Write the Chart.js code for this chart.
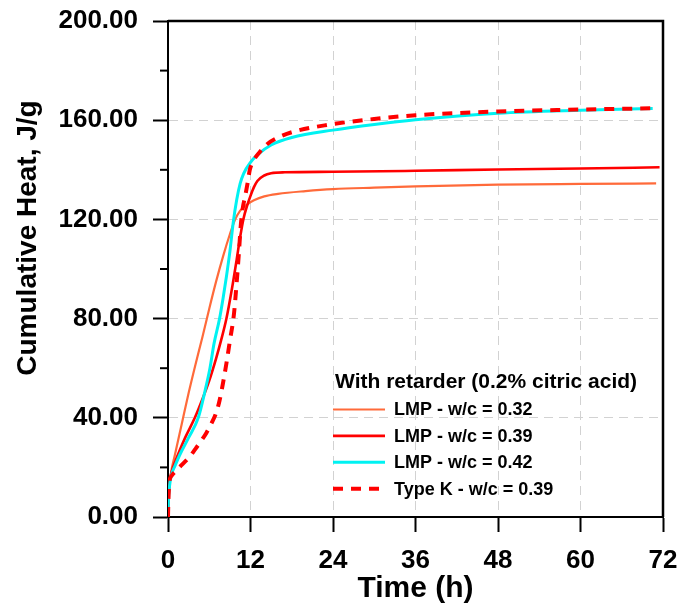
<!DOCTYPE html>
<html>
<head>
<meta charset="utf-8">
<script src="https://cdn.jsdelivr.net/npm/chart.js@4"></script>
<style>
    body { margin: 0; background: #fff; }
</style>
</head>
<body>
<canvas id="heatChart" width="683" height="613"></canvas>
<script>
const FONT = '"Liberation Sans", Arial, sans-serif';

// idő (h) és kumulatív hő (J/g), leolvasva az ábráról
const timeLmp032 = [0, 0.15, 0.4, 1, 2, 3, 4, 5, 6, 7, 8, 9, 9.7, 10.5, 11.5, 12.5, 14, 16, 20, 24, 30, 36, 48, 60, 71];
const heatLmp032 = [0, 10, 17, 25, 37.5, 50, 61.5, 72.5, 84, 95, 105, 114, 119.5, 123.5, 126, 127.7, 129.3, 130.3, 131.4, 132.2, 132.8, 133.3, 134, 134.3, 134.5];

const timeLmp039 = [0, 0.05, 0.2, 0.5, 1, 1.5, 2.5, 3.9, 5, 6, 7, 7.7, 8.5, 9.3, 10, 10.5, 11, 11.5, 12, 12.5, 13, 14, 15, 17, 24, 36, 48, 60, 71.5];
const heatLmp039 = [0, 6, 13, 18, 22, 25.5, 32, 40, 47.5, 55, 64, 71, 80, 92, 104, 113, 120.5, 125.5, 129.5, 133, 135.5, 137.7, 138.6, 139, 139.2, 139.6, 140.1, 140.5, 141];

const timeLmp042 = [0, 0.05, 0.2, 0.5, 1, 1.7, 3, 4.4, 5.4, 6.1, 6.7, 7.5, 8, 8.5, 9, 9.5, 10, 10.5, 11, 12, 13, 15, 18, 24, 30, 36, 48, 60, 70.5];
const heatLmp042 = [0, 6, 12, 17, 20.5, 25, 32, 40, 51, 60, 70, 80, 88, 97, 107, 119, 128, 134.5, 138.5, 143, 146, 150, 153, 156, 158.3, 160.2, 162.8, 164, 164.7];

const timeTypeK = [0, 0.05, 0.2, 0.5, 1.3, 2, 3.2, 4, 4.9, 5.6, 6.3, 7, 7.5, 8, 8.5, 9, 9.6, 10, 10.3, 10.6, 10.9, 11.2, 11.6, 11.9, 12.4, 13.3, 14.5, 16, 18.2, 23.2, 30, 36, 48, 60, 70.5];
const heatTypeK = [0, 6, 14, 16.5, 19, 21, 24.5, 27.5, 31, 34, 37.6, 42, 47, 54, 62, 71, 82, 95, 106, 118, 125, 129, 135, 140, 143.5, 147, 150.5, 153, 155.3, 158.1, 160.5, 162, 163.5, 164.3, 164.8];

const seriesLabels = ['LMP - w/c = 0.32', 'LMP - w/c = 0.39', 'LMP - w/c = 0.42', 'Type K - w/c = 0.39'];
const legendTitle = 'With retarder (0.2% citric acid)';
const xTitle = 'Time (h)';
const yTitle = 'Cumulative Heat, J/g';
const yMinorTicks = [20, 60, 100, 140, 180];

const toPoints = (xs, ys) => xs.map((x, i) => ({x, y: ys[i]}));

const hideEdge = (lo, hi) => (c) =>
    (c.tick && (c.tick.value === lo || c.tick.value === hi)) ? 'rgba(0,0,0,0)' : '#d2d2d2';

// fix tengelyméret, a címkék ne tolják el a rajzterületet
const fixScale = (w, h) => (s) => {
    if (w) s.width = w;
    if (h) s.height = h;
    s.paddingLeft = s.paddingRight = s.paddingTop = s.paddingBottom = 0;
};

// keret, kis osztások, y felirat és jelmagyarázat
const extrasPlugin = {
    id: 'extras',
    afterDraw(chart) {
        const {ctx, chartArea: a, scales: {y}} = chart;
        ctx.save();
        ctx.strokeStyle = '#000';
        ctx.lineWidth = 2;
        yMinorTicks.forEach(v => {
            const py = y.getPixelForValue(v);
            ctx.beginPath();
            ctx.moveTo(a.left - 8, py);
            ctx.lineTo(a.left, py);
            ctx.stroke();
        });
        ctx.lineWidth = 2.5;
        ctx.beginPath();
        ctx.moveTo(a.left, a.top);
        ctx.lineTo(a.right, a.top);
        ctx.lineTo(a.right, a.bottom);
        ctx.stroke();

        // y tengely címe
        ctx.save();
        ctx.translate(28, 238);
        ctx.rotate(-Math.PI / 2);
        ctx.fillStyle = '#000';
        ctx.font = 'bold 28px ' + FONT;
        ctx.textAlign = 'center';
        ctx.textBaseline = 'middle';
        ctx.fillText(yTitle, 0, 0);
        ctx.restore();

        // jelmagyarázat a rajzterület jobb alsó részén
        const lx = a.left + 165;
        ctx.fillStyle = '#000';
        ctx.textAlign = 'left';
        ctx.textBaseline = 'middle';
        ctx.font = 'bold 21px ' + FONT;
        ctx.fillText(legendTitle, lx + 2, a.bottom - 135);
        ctx.font = 'bold 18px ' + FONT;
        chart.data.datasets.forEach((ds, i) => {
            const ly = a.bottom - 107.5 + i * 26.4;
            ctx.strokeStyle = ds.borderColor;
            ctx.lineWidth = ds.borderWidth;
            ctx.setLineDash(ds.borderDash || []);
            ctx.beginPath();
            ctx.moveTo(lx, ly);
            ctx.lineTo(lx + 52, ly);
            ctx.stroke();
            ctx.setLineDash([]);
            ctx.fillText(ds.label, lx + 61, ly + 1);
        });
        ctx.restore();
    }
};

new Chart(document.getElementById('heatChart'), {
    type: 'line',
    data: {
        datasets: [
            {label: seriesLabels[0], data: toPoints(timeLmp032, heatLmp032), borderColor: '#ff6a3a', borderWidth: 2.2, order: 3},
            {label: seriesLabels[1], data: toPoints(timeLmp039, heatLmp039), borderColor: '#ff0000', borderWidth: 2.6, order: 2},
            {label: seriesLabels[2], data: toPoints(timeLmp042, heatLmp042), borderColor: '#00f2f2', borderWidth: 3, order: 1},
            {label: seriesLabels[3], data: toPoints(timeTypeK, heatTypeK), borderColor: '#ff0000', borderWidth: 4, borderDash: [10, 8], order: 0}
        ]
    },
    options: {
        responsive: false,
        animation: false,
        layout: {padding: {left: 50, right: 20, top: 21, bottom: 0}},
        elements: {
            point: {radius: 0},
            line: {cubicInterpolationMode: 'monotone', fill: false}
        },
        plugins: {
            legend: {display: false},
            tooltip: {enabled: false}
        },
        scales: {
            x: {
                type: 'linear',
                min: 0,
                max: 72,
                afterFit: fixScale(0, 96),
                ticks: {stepSize: 12, padding: 13, color: '#000', font: {family: FONT, size: 26, weight: 'bold'}},
                grid: {color: hideEdge(0, 72), lineWidth: 1, tickLength: 15, tickColor: '#000', tickWidth: 2, tickBorderDash: []},
                border: {display: true, color: '#000', width: 2, dash: [9, 6]},
                title: {display: true, text: xTitle, color: '#000', padding: {top: 0, bottom: 6}, font: {family: FONT, size: 30, weight: 'bold'}}
            },
            y: {
                min: 0,
                max: 200,
                afterFit: fixScale(118, 0),
                ticks: {stepSize: 40, padding: 15, color: '#000', font: {family: FONT, size: 26, weight: 'bold'},
                    callback: (v) => v.toFixed(2)},
                grid: {color: hideEdge(0, 200), lineWidth: 1, tickLength: 15, tickColor: '#000', tickWidth: 2, tickBorderDash: []},
                border: {display: true, color: '#000', width: 2, dash: [9, 6]}
            }
        }
    },
    plugins: [extrasPlugin]
});
</script>
</body>
</html>
